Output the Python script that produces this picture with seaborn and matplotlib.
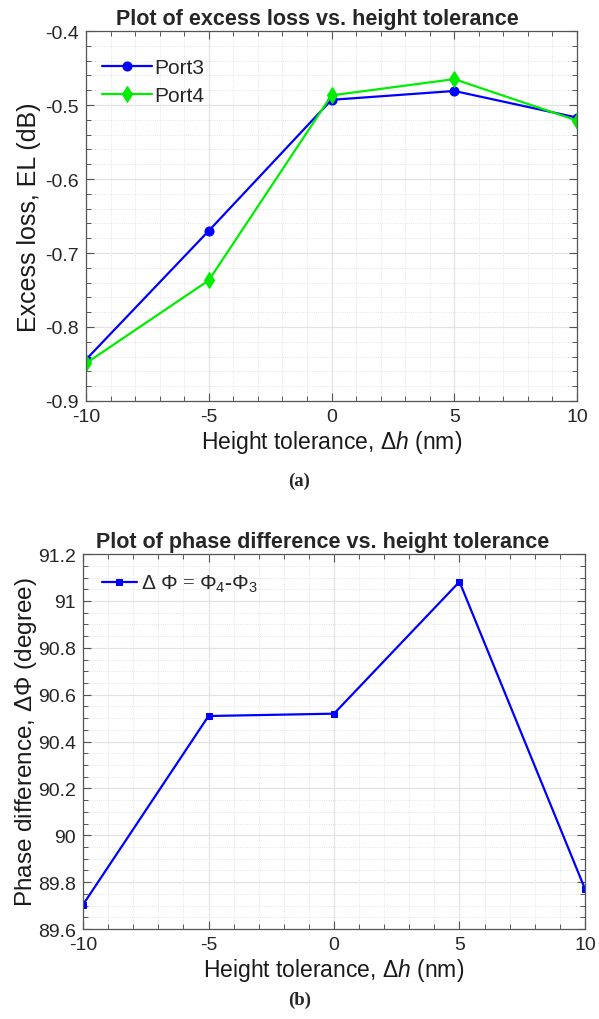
import numpy as np
import pandas as pd
import matplotlib
matplotlib.use("Agg")
import matplotlib.pyplot as plt
from matplotlib.ticker import MultipleLocator
import seaborn as sns

# ---- data ----
height_nm = [-10, -5, 0, 5, 10]
el_port3 = [-0.844, -0.670, -0.493, -0.481, -0.517]
el_port4 = [-0.849, -0.737, -0.487, -0.465, -0.521]
phase_diff = [89.704, 90.509, 90.519, 91.082, 89.771]
x_ticks = [-10, -5, 0, 5, 10]
el_ticks = [-0.9, -0.8, -0.7, -0.6, -0.5, -0.4]
el_tick_labels = ["-0.9", "-0.8", "-0.7", "-0.6", "-0.5", "-0.4"]
ph_ticks = [89.6, 89.8, 90.0, 90.2, 90.4, 90.6, 90.8, 91.0, 91.2]
ph_tick_labels = ["89.6", "89.8", "90", "90.2", "90.4", "90.6", "90.8", "91", "91.2"]

sns.set_style("ticks")
plt.rcParams['font.family'] = ['Liberation Sans', 'DejaVu Sans']
plt.rcParams['mathtext.fontset'] = 'custom'
plt.rcParams['mathtext.rm'] = 'Liberation Sans'
plt.rcParams['mathtext.it'] = 'Liberation Sans:italic'

fig = plt.figure(figsize=(5.99, 10.2), dpi=100)
ax1 = fig.add_axes([0.1436, 0.6059, 0.8197, 0.3627])
ax2 = fig.add_axes([0.1386, 0.0882, 0.8380, 0.3676])

df_a = pd.DataFrame({"h": height_nm * 2,
                     "EL": el_port3 + el_port4,
                     "port": ["Port3"] * 5 + ["Port4"] * 5})

sns.lineplot(data=df_a[df_a.port == "Port3"], x="h", y="EL", ax=ax1, color="#0000ff",
             marker="o", markersize=6.5, linewidth=1.6, label="Port3",
             markeredgecolor="#0000ff")
sns.lineplot(data=df_a[df_a.port == "Port4"], x="h", y="EL", ax=ax1, color="#00ee00",
             marker="d", markersize=8, linewidth=1.6, label="Port4",
             markeredgecolor="#00ee00")

df_b = pd.DataFrame({"h": height_nm, "dphi": phase_diff})
sns.lineplot(data=df_b, x="h", y="dphi", ax=ax2, color="#0000ff", marker="s",
             markersize=5, linewidth=1.6, markeredgecolor="#0000ff",
             label=r"$\Delta$ $\Phi$ = $\Phi_4$-$\Phi_3$")


def style(ax, yticks, ylabels, ylim, yminor):
    ax.set_xlim(-10, 10)
    ax.set_ylim(*ylim)
    ax.set_xticks(x_ticks)
    ax.set_xticklabels([str(t) for t in x_ticks])
    ax.set_yticks(yticks)
    ax.set_yticklabels(ylabels)
    ax.xaxis.set_minor_locator(MultipleLocator(1))
    ax.yaxis.set_minor_locator(MultipleLocator(yminor))
    ax.tick_params(which='both', direction='in', top=True, right=True,
                   color='#555555', labelsize=14, labelcolor='#262626')
    ax.tick_params(axis='y', which='major', pad=5)
    ax.tick_params(axis='x', which='major', pad=5)
    ax.tick_params(which='major', length=6, width=0.8)
    ax.tick_params(which='minor', length=3.5, width=0.7)
    ax.grid(which='major', color='#e3e3e3', linewidth=0.9, linestyle='-')
    ax.grid(which='minor', color='#dcdcdc', linewidth=0.6, linestyle=':')
    ax.set_axisbelow(True)
    for s in ax.spines.values():
        s.set_color('#555555')
        s.set_linewidth(0.9)
        s.set_visible(True)
    ax.set_xlabel(r"Height tolerance, $\Delta\mathit{h}$ (nm)", fontsize=16.5,
                  labelpad=2, color='#1a1a1a')


style(ax1, el_ticks, el_tick_labels, (-0.9, -0.4), 0.02)
style(ax2, ph_ticks, ph_tick_labels, (89.6, 91.2), 0.05)

ax1.set_ylabel("Excess loss, EL (dB)", fontsize=18, labelpad=3, color='#1a1a1a')
ax2.set_ylabel(r"Phase difference, $\Delta\Phi$ (degree)", fontsize=17.5, labelpad=-1,
               color='#1a1a1a')
ax1.set_title("Plot of excess loss vs. height tolerance", fontsize=15.5,
              fontweight='bold', pad=5, x=0.472)
ax2.set_title("Plot of phase difference vs. height tolerance", fontsize=15.5,
              fontweight='bold', pad=5, x=0.478)

ax1.legend(loc='upper left', bbox_to_anchor=(-0.022, 1.0), frameon=False, fontsize=15,
           handlelength=2.4, handletextpad=0.1, borderaxespad=0.9, labelspacing=0.45)
leg2 = ax2.legend(loc='upper left', frameon=False, fontsize=15, handlelength=1.7,
                  handletextpad=0.2, borderaxespad=0.5)
for t in leg2.get_texts():
    t.set_family(['Liberation Serif', 'DejaVu Serif'])

fig.text(0.5, 1 - 481 / 1020, "(a)", ha='center', va='center', fontsize=13.5,
         fontweight='bold', family=['Liberation Serif', 'DejaVu Serif'])
fig.text(0.5, 1 - 1000 / 1020, "(b)", ha='center', va='center', fontsize=13.5,
         fontweight='bold', family=['Liberation Serif', 'DejaVu Serif'])

fig.savefig("out.png", dpi=100)
